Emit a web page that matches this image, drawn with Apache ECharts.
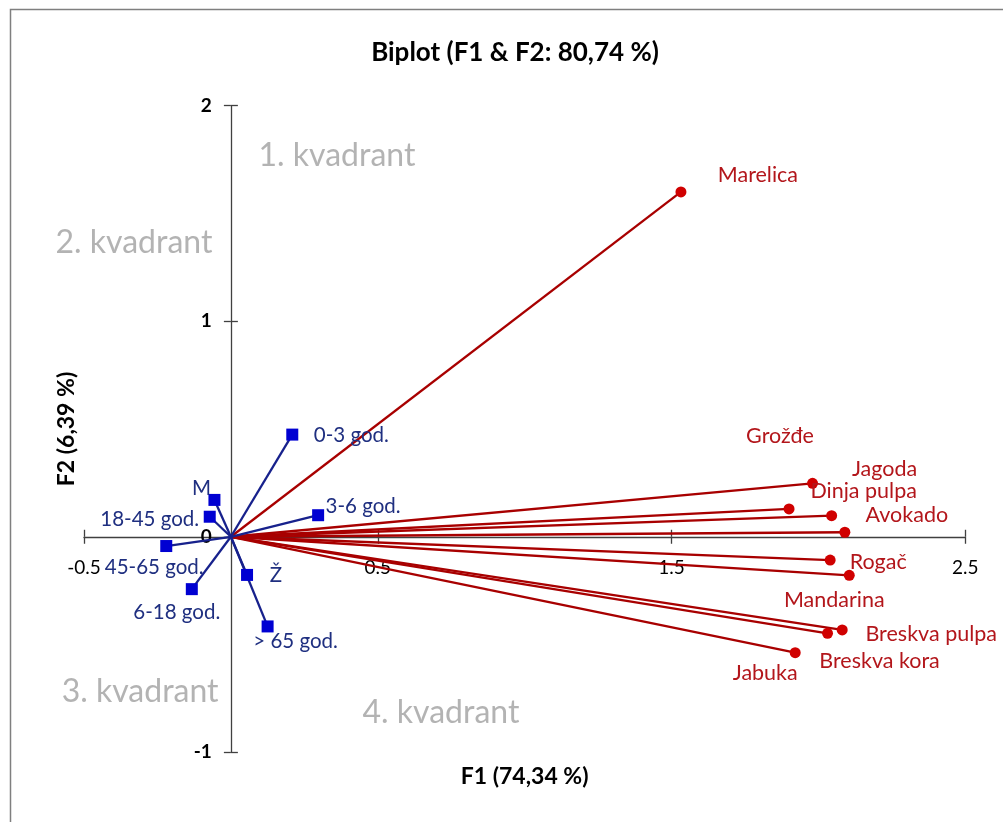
<!DOCTYPE html>
<html>
<head>
<meta charset="utf-8">
<script src="https://cdn.jsdelivr.net/npm/echarts@6/dist/echarts.min.js"></script>
<style>
html,body{margin:0;padding:0;background:#fff;}
#chart{width:1003px;height:822px;}
</style>
</head>
<body>
<div id="chart"></div>
<script>
// ---- data ----
const fruitNames = ['Marelica','Grožđe','Jagoda','Dinja pulpa','Avokado','Rogač','Mandarina','Breskva pulpa','Breskva kora','Jabuka'];
const fruitF1 = [1.532, 1.900, 1.980, 2.045, 2.090, 2.040, 2.105, 2.081, 2.031, 1.921];
const fruitF2 = [1.600, 0.129, 0.248, 0.098, 0.021, -0.108, -0.179, -0.432, -0.448, -0.538];

const groupNames = ['0-3 god.','3-6 god.','M','18-45 god.','45-65 god.','6-18 god.','Ž','> 65 god.'];
const groupF1 = [0.209, 0.297, -0.056, -0.072, -0.220, -0.133, 0.055, 0.125];
const groupF2 = [0.474, 0.100, 0.171, 0.093, -0.043, -0.243, -0.177, -0.416];

const quadrantNames = ['1. kvadrant','2. kvadrant','3. kvadrant','4. kvadrant'];
const quadrantF1 = [0.361, -0.33, -0.309, 0.715];
const quadrantF2 = [1.767, 1.363, -0.721, -0.818];

const xTicks = {min: -0.5, max: 2.5, interval: 1};
const yTicks = {min: -1, max: 2, interval: 1};

// ---- layout / style ----
const W = 1003, H = 822;
const GRID = {left: 84, right: 37.7, top: 105.7, bottom: 69.7};
const gridW = W - GRID.left - GRID.right;
const gridH = H - GRID.top - GRID.bottom;
// distance from grid edges to the zero lines (axes cross at 0,0)
const xZeroFromBottom = gridH * (0 - yTicks.min) / (yTicks.max - yTicks.min);
const xZeroFromTop = gridH - xZeroFromBottom;
const yZeroFromLeft = gridW * (0 - xTicks.min) / (xTicks.max - xTicks.min);
const yZeroFromRight = gridW - yZeroFromLeft;

const fruitLabelOffsets = [[77,-17],[-9,-73],[72,-14],[32,-25],[62,-17],[48,2],[-15,25],[89,4],[52,28],[-30,20]];
const groupLabelOffsets = [[59,1],[45,-9],[-13,-12],[-60,3],[-12,21],[-15,23],[29,0],[28,15]];

const FONT = 'Lato';
const RED_LINE = '#a80000', RED_MARK = '#d00000', RED_TEXT = '#b3161b';
const BLUE_LINE = '#17218c', BLUE_MARK = '#0000d2', BLUE_TEXT = '#1f2f80';
const AXIS_COLOR = '#404040';

function vectorSeries(name, x, y, off, lineColor, markColor, textColor, symbol, size, fs) {
  return {
    type: 'line',
    name: name,
    xAxisIndex: 0, yAxisIndex: 0,
    data: [
      {value: [0, 0], symbol: 'none'},
      {value: [x, y], symbol: symbol, symbolSize: size,
       label: {show: true, position: 'inside', offset: off, formatter: name,
               color: textColor, fontSize: fs, fontFamily: FONT,
               align: 'center', verticalAlign: 'middle'}}
    ],
    lineStyle: {color: lineColor, width: 2.3},
    itemStyle: {color: markColor},
    silent: true,
    z: 3
  };
}

const series = [];
fruitNames.forEach((n, i) => series.push(vectorSeries(n, fruitF1[i], fruitF2[i], fruitLabelOffsets[i], RED_LINE, RED_MARK, RED_TEXT, 'circle', 11, 21.5)));
groupNames.forEach((n, i) => series.push(vectorSeries(n, groupF1[i], groupF2[i], groupLabelOffsets[i], BLUE_LINE, BLUE_MARK, BLUE_TEXT, 'rect', 12, 20.5)));
series.push({
  type: 'scatter',
  symbolSize: 0,
  silent: true,
  data: quadrantNames.map((n, i) => ({value: [quadrantF1[i], quadrantF2[i]], name: n})),
  label: {show: true, position: 'inside', formatter: p => p.name, color: '#a0a0a0',
          fontSize: 32, fontFamily: FONT, align: 'center', verticalAlign: 'middle'},
  z: 1
});

const axisLineStyle = {color: AXIS_COLOR, width: 1.3};

const option = {
  animation: false,
  backgroundColor: '#fff',
  title: {
    text: 'Biplot (F1 & F2: 80,74 %)',
    left: 510, top: 35, textAlign: 'center',
    textStyle: {fontFamily: FONT, fontSize: 26, fontWeight: 'bold', color: '#000'}
  },
  grid: {left: GRID.left, right: GRID.right, top: GRID.top, bottom: GRID.bottom, containLabel: false, outerBoundsMode: 'none'},
  xAxis: [
    {type: 'value', min: xTicks.min, max: xTicks.max, interval: xTicks.interval, position: 'bottom',
     offset: -xZeroFromBottom,
     axisLine: {show: true, onZero: false, lineStyle: axisLineStyle},
     axisTick: {show: true, length: 7, lineStyle: axisLineStyle},
     axisLabel: {margin: 22, fontSize: 19, fontFamily: FONT, color: '#000',
                 formatter: v => String(Math.round(v * 10) / 10)},
     splitLine: {show: false},
     name: 'F1 (74,34 %)', nameLocation: 'middle', nameGap: 228,
     nameTextStyle: {fontFamily: FONT, fontSize: 23, fontWeight: 'bold', color: '#000'}},
    {type: 'value', min: xTicks.min, max: xTicks.max, interval: xTicks.interval, position: 'top',
     offset: -xZeroFromTop,
     axisLine: {show: false, onZero: false},
     axisTick: {show: true, length: 7, lineStyle: axisLineStyle},
     axisLabel: {show: false}, splitLine: {show: false}}
  ],
  yAxis: [
    {type: 'value', min: yTicks.min, max: yTicks.max, interval: yTicks.interval, position: 'left',
     offset: -yZeroFromLeft,
     axisLine: {show: true, onZero: false, lineStyle: axisLineStyle},
     axisTick: {show: true, length: 7, lineStyle: axisLineStyle},
     axisLabel: {margin: 19, fontSize: 19, fontWeight: 'bold', fontFamily: FONT, color: '#000'},
     splitLine: {show: false},
     name: 'F2 (6,39 %)', nameLocation: 'middle', nameGap: 153, nameRotate: 90,
     nameTextStyle: {fontFamily: FONT, fontSize: 23, fontWeight: 'bold', color: '#000'}},
    {type: 'value', min: yTicks.min, max: yTicks.max, interval: yTicks.interval, position: 'right',
     offset: -yZeroFromRight,
     axisLine: {show: false, onZero: false},
     axisTick: {show: true, length: 7, lineStyle: axisLineStyle},
     axisLabel: {show: false}, splitLine: {show: false}}
  ],
  graphic: [
    {type: 'rect', left: 8, top: 7, shape: {width: 1010, height: 830},
     style: {fill: 'none', stroke: '#7f7f7f', lineWidth: 1.5}, silent: true, z: -1}
  ],
  series: series
};

const chart = echarts.init(document.getElementById('chart'), null, {renderer: 'canvas'});
chart.setOption(option);
</script>
</body>
</html>
